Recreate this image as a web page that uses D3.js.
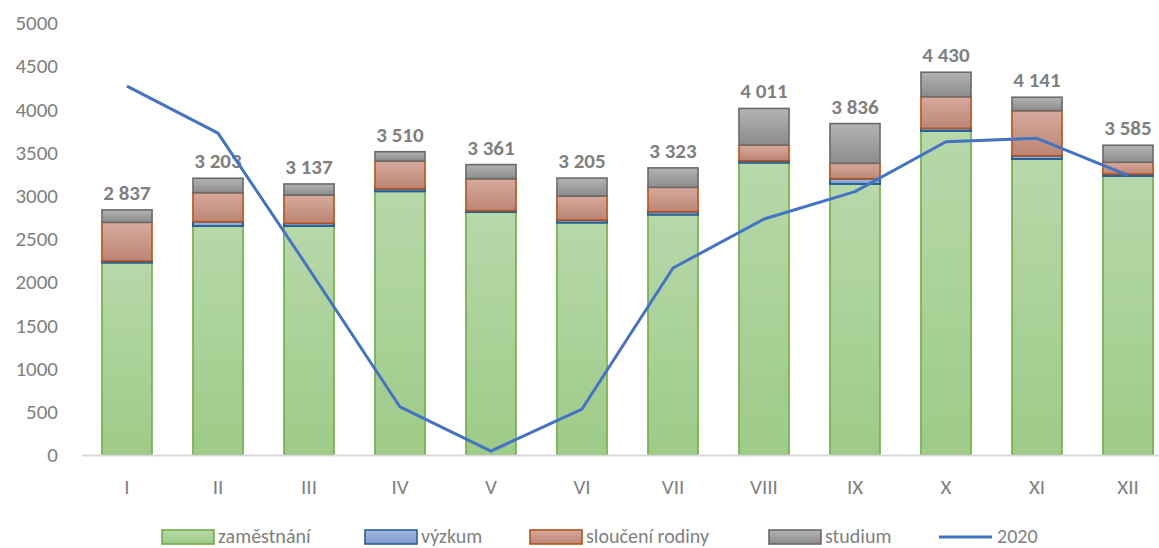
<!DOCTYPE html>
<html>
<head>
<meta charset="utf-8">
<script src="https://cdn.jsdelivr.net/npm/d3@7"></script>
<style>
  html, body { margin: 0; padding: 0; background: #fff; }
  svg { display: block; font-family: Carlito, Calibri, Lato, sans-serif; }
</style>
</head>
<body>
<svg id="chart" width="1159" height="548"></svg>
<script>
// data
var months = ['I', 'II', 'III', 'IV', 'V', 'VI', 'VII', 'VIII', 'IX', 'X', 'XI', 'XII'];
var zamestnani = [2226, 2650, 2650, 3052, 2812, 2689, 2781, 3383, 3137, 3750, 3426, 3229];
var vyzkum = [20, 50, 32, 30, 16, 31, 35, 23, 61, 31, 38, 23];
var slouceniRodiny = [447, 336, 327, 321, 370, 278, 282, 182, 178, 366, 521, 136];
var studium = [144, 167, 128, 107, 163, 207, 225, 423, 460, 283, 156, 197];
var totals = [2837, 3203, 3137, 3510, 3361, 3205, 3323, 4011, 3836, 4430, 4141, 3585];
var line2020 = [4270, 3725, 2153, 556, 46, 532, 2164, 2731, 3048, 3626, 3665, 3237];
var yTicks = [0, 500, 1000, 1500, 2000, 2500, 3000, 3500, 4000, 4500, 5000];

(function ChartModule() {

  'use strict';

  var _svg = d3.select('#chart');
  var _textColor = '#7f7f7f';

  var series = [
    { key: 'zam', name: 'zaměstnání', values: zamestnani, top: '#b7d8a9', bottom: '#9ecb88', stroke: '#70ad47' },
    { key: 'vyz', name: 'výzkum', values: vyzkum, top: '#a3b8de', bottom: '#7f9bcf', stroke: '#2a6195' },
    { key: 'slo', name: 'sloučení rodiny', values: slouceniRodiny, top: '#d6aa9e', bottom: '#bd8574', stroke: '#b4531b' },
    { key: 'stu', name: 'studium', values: studium, top: '#b3b3b3', bottom: '#8c8c8c', stroke: '#6a6a6a' }
  ];

  var x = d3.scaleBand()
    .domain(months)
    .range([81.5, 1173.5])
    .paddingInner(0.45)
    .paddingOuter(0.225);

  var y = d3.scaleLinear()
    .domain([0, 5000])
    .range([455, 23]);

  // gradients
  var defs = _svg.append('defs');
  series.forEach(function addGradient(s) {
    var g = defs.append('linearGradient')
      .attr('id', 'grad-' + s.key)
      .attr('x1', 0).attr('y1', 0)
      .attr('x2', 0).attr('y2', 1);
    g.append('stop').attr('offset', '0%').attr('stop-color', s.top);
    g.append('stop').attr('offset', '100%').attr('stop-color', s.bottom);
  });

  // y axis labels
  var yAxis = d3.axisLeft(y).tickValues(yTicks).tickSize(0).tickPadding(0).tickFormat(d3.format('d'));
  var yG = _svg.append('g')
    .attr('transform', 'translate(58,0)')
    .call(yAxis);
  yG.select('.domain').remove();
  yG.selectAll('text')
    .attr('fill', _textColor)
    .style('font-size', '21px')
    .style('font-family', 'Carlito, Calibri, Lato, sans-serif');

  // stacked bars
  var table = months.map(function (m, i) {
    var row = { month: m };
    series.forEach(function (s) { row[s.key] = s.values[i]; });
    return row;
  });
  var stacked = d3.stack().keys(series.map(function (s) { return s.key; }))(table);

  _svg.append('g')
    .selectAll('g')
    .data(stacked)
    .join('g')
    .each(function (layer, li) {
      var s = series[li];
      d3.select(this).selectAll('rect')
        .data(layer)
        .join('rect')
        .attr('x', function (d) { return x(d.data.month); })
        .attr('y', function (d) { return y(d[1]); })
        .attr('width', x.bandwidth())
        .attr('height', function (d) { return Math.max(0, y(d[0]) - y(d[1])); })
        .attr('fill', 'url(#grad-' + s.key + ')')
        .attr('stroke', s.stroke)
        .attr('stroke-width', li === 1 ? 2 : 1.6);
    });

  // x axis
  var xAxis = d3.axisBottom(x).tickSize(0).tickPadding(0);
  var xG = _svg.append('g')
    .attr('transform', 'translate(0,455)')
    .call(xAxis);
  xG.select('.domain').attr('stroke', '#d9d9d9').attr('stroke-width', 2);
  xG.selectAll('text')
    .attr('fill', _textColor)
    .attr('dy', '1.05em')
    .attr('y', 17)
    .style('font-size', '21px')
    .style('font-family', 'Carlito, Calibri, Lato, sans-serif');

  // total labels
  _svg.append('g')
    .selectAll('text')
    .data(totals)
    .join('text')
    .attr('x', function (d, i) { return x(months[i]) + x.bandwidth() / 2; })
    .attr('y', function (d) { return y(d) - 10; })
    .attr('text-anchor', 'middle')
    .attr('fill', _textColor)
    .style('font-size', '21px')
    .style('font-weight', 'bold')
    .text(function (d) { return d3.format(',')(d).replace(',', ' '); });

  // 2020 line
  var line = d3.line()
    .x(function (d, i) { return x(months[i]) + x.bandwidth() / 2; })
    .y(function (d) { return y(d); });

  _svg.append('path')
    .datum(line2020)
    .attr('d', line)
    .attr('fill', 'none')
    .attr('stroke', '#4472c4')
    .attr('stroke-width', 3)
    .attr('stroke-linejoin', 'round');

  // legend
  var legendX = [162, 365, 530, 769, 939];
  var legend = _svg.append('g').attr('transform', 'translate(0,529)');
  series.forEach(function (s, i) {
    legend.append('rect')
      .attr('x', legendX[i]).attr('y', 1)
      .attr('width', 52).attr('height', 14)
      .attr('fill', 'url(#grad-' + s.key + ')')
      .attr('stroke', s.stroke)
      .attr('stroke-width', 1.6);
    legend.append('text')
      .attr('x', legendX[i] + 56).attr('y', 14)
      .attr('fill', _textColor)
      .style('font-size', '20px')
      .text(s.name);
  });
  legend.append('line')
    .attr('x1', legendX[4]).attr('x2', legendX[4] + 53)
    .attr('y1', 8).attr('y2', 8)
    .attr('stroke', '#4472c4')
    .attr('stroke-width', 3);
  legend.append('text')
    .attr('x', legendX[4] + 58).attr('y', 14)
    .attr('fill', _textColor)
    .style('font-size', '20px')
    .text('2020');

})();
</script>
</body>
</html>
